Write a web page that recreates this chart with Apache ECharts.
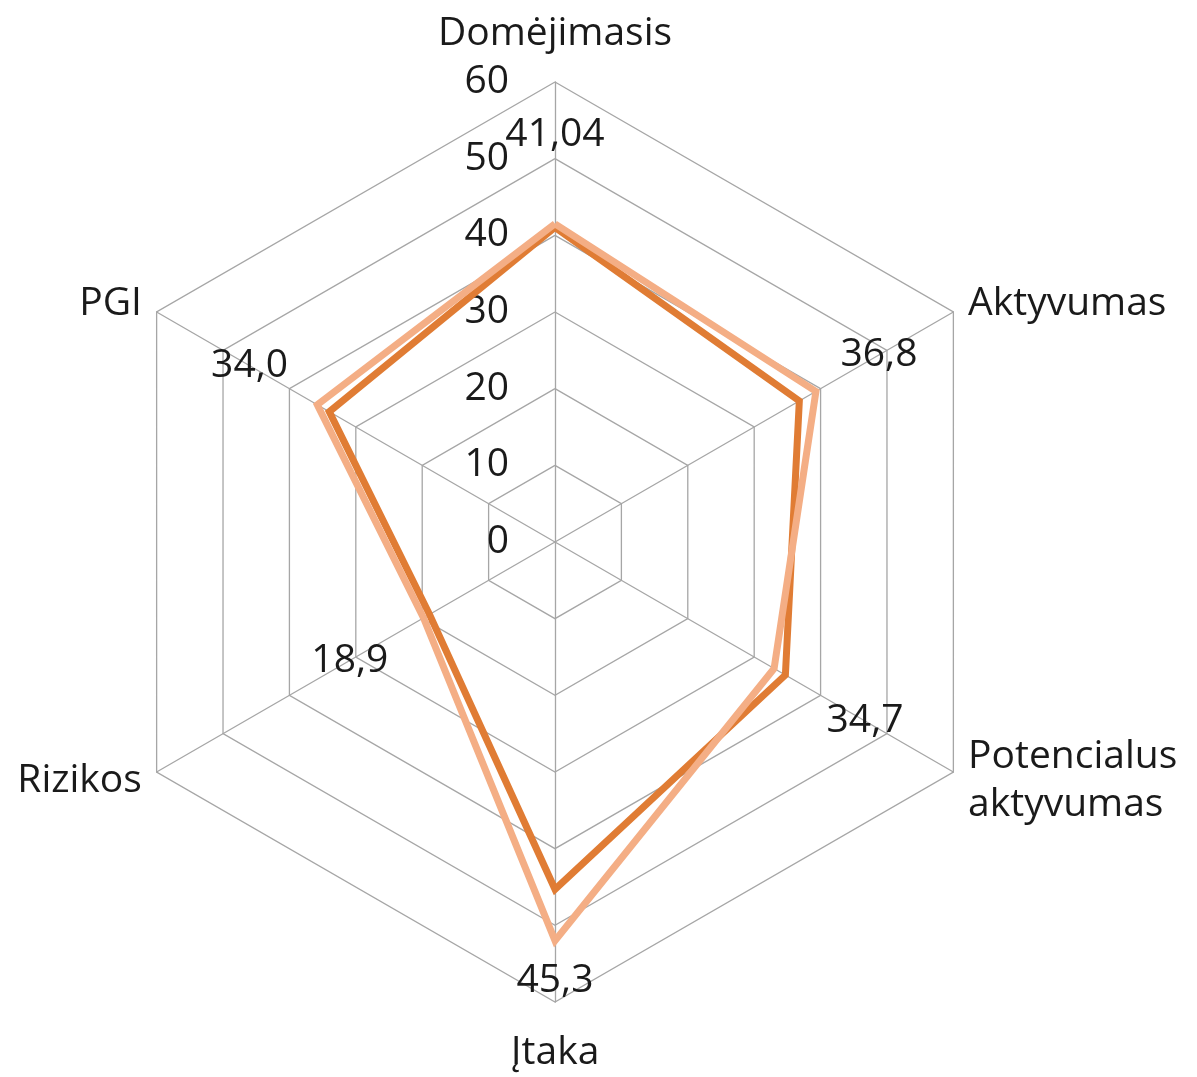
<!DOCTYPE html>
<html>
<head>
<meta charset="utf-8">
<title>Radaro diagrama</title>
<script src="https://cdn.jsdelivr.net/npm/echarts@6/dist/echarts.min.js"></script>
<style>
  html, body { margin: 0; padding: 0; background: #fff; }
  #chart { width: 1197px; height: 1077px; }
</style>
</head>
<body>
<div id="chart"></div>
<script>
// rodikliai, clockwise from top as in the picture
const indicatorNames = ['Domėjimasis', 'Aktyvumas', 'Potencialus\naktyvumas', 'Įtaka', 'Rizikos', 'PGI']
const axisMin = 0
const axisMax = 60
const axisStep = 10

// dark series carries the data labels
const darkValues = [41.04, 36.8, 34.7, 45.3, 18.9, 34.0]
const darkLabels = ['41,04', '36,8', '34,7', '45,3', '18,9', '34,0']
const lightValues = [41.5, 39.3, 33.0, 52.0, 19.8, 35.8]

const FONT = '"Open Sans"'
const FS = 39
const TEXT = '#1a1a1a'
const GRID = '#a6a6a6'
const DARK = '#e07c34'
const LIGHT = '#f4ae85'
const CENTER = [555, 542]
const LABEL_DIST = 92

// echarts lays indicators out counter-clockwise, so walk the arrays backwards after the first
const order = indicatorNames.map((_, i) => (i === 0 ? 0 : indicatorNames.length - i))
const pick = (arr) => order.map((i) => arr[i])

const chart = echarts.init(document.getElementById('chart'))

// top / bottom names sit further from the vertex than side names
const nameRich = {
  t: { fontFamily: FONT, fontSize: FS, color: TEXT, padding: [0, 0, 12, 0] },
  b: { fontFamily: FONT, fontSize: FS, color: TEXT, padding: [14, 0, 0, 0] },
  s: { fontFamily: FONT, fontSize: FS, color: TEXT, lineHeight: 48 }
}

const option = {
  animation: false,
  backgroundColor: '#fff',
  radar: {
    center: CENTER,
    radius: 460,
    startAngle: 90,
    shape: 'polygon',
    splitNumber: (axisMax - axisMin) / axisStep,
    indicator: pick(indicatorNames).map((name, i) => {
      const ind = { name, min: axisMin, max: axisMax }
      if (i === 0) {
        ind.axisLabel = {
          show: true,
          showMinLabel: true,
          fontFamily: FONT,
          fontSize: FS,
          color: TEXT,
          margin: 46
        }
      }
      return ind
    }),
    axisName: {
      color: TEXT,
      fontFamily: FONT,
      fontSize: FS,
      formatter: (name) => {
        const i = indicatorNames.indexOf(name)
        if (i === 0) return '{t|' + name + '}'
        if (i === 3) return '{b|' + name + '}'
        return name.split('\n').map((l) => '{s|' + l + '}').join('\n')
      },
      rich: nameRich
    },
    nameGap: 17,
    axisLabel: { show: false },
    axisLine: { lineStyle: { color: GRID, width: 1.3 } },
    splitLine: { lineStyle: { color: GRID, width: 1.3 } },
    splitArea: { show: false },
    axisTick: { show: false }
  },
  series: [
    {
      type: 'radar',
      z: 2,
      symbol: 'circle',
      symbolSize: 2,
      data: [
        {
          name: 'Tamsi',
          value: pick(darkValues),
          itemStyle: { color: DARK },
          lineStyle: { color: DARK, width: 7, join: 'miter' },
          label: {
            show: true,
            fontFamily: FONT,
            fontSize: FS,
            color: TEXT,
            formatter: (p) => darkLabels[darkValues.indexOf(p.value)]
          }
        }
      ],
      // push each label outward along its own axis
      labelLayout: (p) => {
        const x = p.rect.x + p.rect.width / 2
        const y = p.rect.y + p.rect.height / 2
        const a = Math.atan2(y - CENTER[1], x - CENTER[0])
        return {
          x: x + LABEL_DIST * Math.cos(a),
          y: y + LABEL_DIST * Math.sin(a),
          align: 'center',
          verticalAlign: 'middle'
        }
      }
    },
    {
      type: 'radar',
      z: 3,
      symbol: 'none',
      data: [
        {
          name: 'Šviesi',
          value: pick(lightValues),
          itemStyle: { color: LIGHT },
          lineStyle: { color: LIGHT, width: 7, join: 'miter' }
        }
      ]
    }
  ]
}

chart.setOption(option)
</script>
</body>
</html>
